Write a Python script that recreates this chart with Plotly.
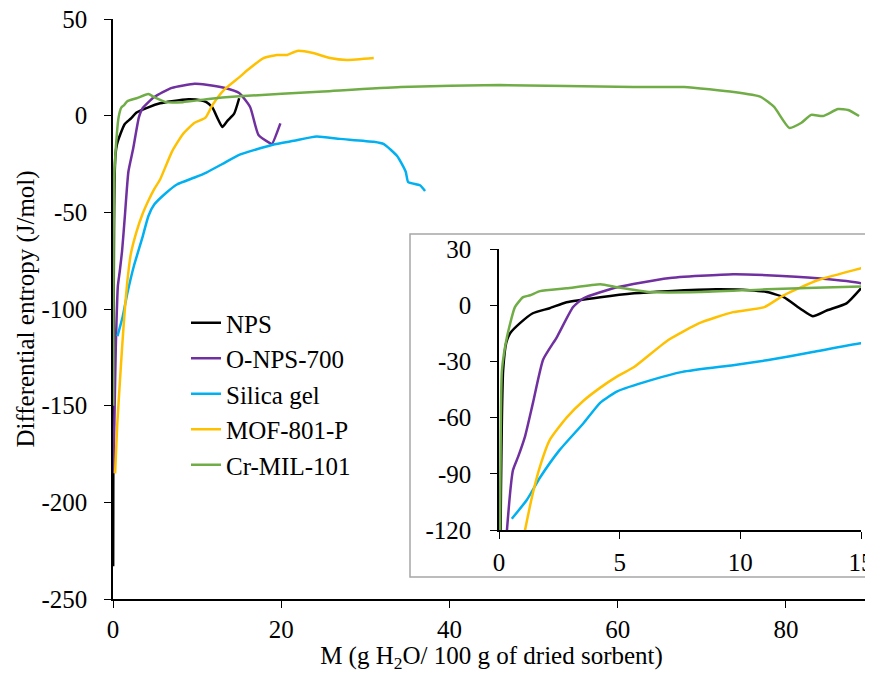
import plotly.graph_objects as go

# ---------------- data ----------------
nps_x = [0.02, 0.05, 0.08, 0.12, 0.17, 0.3, 0.46, 0.87, 1.4, 2.1, 2.8, 4.2, 5.6, 7.0, 9.0, 10.4, 11.1, 11.8, 12.5, 13.0, 13.6, 14.4, 15.0]
nps_y = [-233, -150, -100, -60, -35, -20, -15, -9.6, -4.3, -1.6, 1.6, 4.3, 6.4, 7.5, 8.5, 8.0, 7.0, 4.3, -2, -5.9, -2.7, 1.0, 9.0]

onps_x = [0.05, 0.2, 0.33, 0.58, 0.79, 1.08, 1.41, 1.83, 2.4, 3.07, 3.5, 4.9, 7.0, 9.7, 11.1, 13.2, 15.0, 16.3, 17.3, 18.7, 18.9, 19.9]
onps_y = [-185, -150, -120, -88, -81, -70, -52, -29, -17, -1, 3.7, 9.6, 14.4, 16.5, 16, 14.4, 11.7, 4.5, -10, -14.3, -14.7, -4]

sg_x = [0.53, 1.15, 1.7, 2.5, 3.5, 4.2, 4.9, 6.3, 7.6, 9.7, 11.1, 13.0, 15.0, 17.0, 19.0, 21.5, 24.2, 27.0, 31.0, 32.2, 33.8, 34.8, 35.1, 36.5, 37.1]
sg_y = [-114, -104, -92, -77.5, -63, -52, -46, -40, -35.6, -32, -29.4, -25, -20.3, -17.5, -15, -13, -10.8, -12, -13.5, -14.7, -21, -29, -34.4, -36, -39]

mof_x = [0.25, 0.5, 0.83, 1.08, 1.41, 1.7, 2.1, 2.8, 3.5, 4.2, 4.9, 5.6, 7.0, 8.3, 9.7, 11.0, 11.8, 13.2, 15.0, 16.0, 17.9, 19.5, 20.7, 21.9, 23.8, 25.8, 27.8, 31.0]
mof_y = [-185, -160, -137, -120, -100, -86, -72, -60, -51, -44, -38, -33, -18.7, -9.6, -3.7, -1, 5.3, 13.3, 19.8, 23.6, 29.8, 31.4, 31.4, 33.5, 32.4, 29.8, 28.8, 29.8]

cr_x = [0.03, 0.06, 0.12, 0.33, 0.66, 1.0, 1.29, 1.7, 2.8, 4.2, 4.9, 6.3, 8.3, 11.1, 15.0, 25, 34.2, 46, 61.9, 67.9, 73.8, 77.0, 78.6, 80.4, 81.8, 83.0, 84.4, 86.2, 87.4, 88.7]
cr_y = [-150, -90, -35, -17, -1, 4.3, 5.3, 7.5, 9, 11.2, 9.6, 7, 7, 8.5, 10, 12.5, 14.8, 15.8, 14.8, 14.8, 12.2, 9.7, 4.5, -6.3, -3.8, 0.4, -0.2, 3.4, 2.9, -0.2]

series = [
    ("NPS", nps_x, nps_y, "#000000"),
    ("O-NPS-700", onps_x, onps_y, "#7030A0"),
    ("Silica gel", sg_x, sg_y, "#00B0F0"),
    ("MOF-801-P", mof_x, mof_y, "#FFC000"),
    ("Cr-MIL-101", cr_x, cr_y, "#70AD47"),
]

main_xticks = [0, 20, 40, 60, 80]
main_yticks = [50, 0, -50, -100, -150, -200, -250]
main_ytext = ["50", "0", "-50", "-100", "-150", "-200", "-250"]
inset_xticks = [0, 5, 10, 15]
inset_yticks = [30, 0, -30, -60, -90, -120]
inset_ytext = ["30", "0", "-30", "-60", "-90", "-120"]

FONT = "Liberation Serif"

fig = go.Figure()
for name, xs, ys, col in series:
    fig.add_trace(go.Scatter(x=xs, y=ys, mode="lines", name=name, legendgroup=name,
                             line=dict(color=col, width=2.5, shape="spline", smoothing=0.5),
                             xaxis="x", yaxis="y"))
for name, xs, ys, col in series:
    fig.add_trace(go.Scatter(x=xs, y=ys, mode="lines", name=name, showlegend=False,
                             line=dict(color=col, width=2.5, shape="spline", smoothing=0.5),
                             xaxis="x2", yaxis="y2"))

OFF = 8  # page body margin
W, H = 873 - OFF, 673 - OFF
L = 113 - OFF
T = 19 - OFF
R = W - (870 - OFF)
B = H - (599 - OFF)
pw, ph = W - L - R, H - T - B

def px(xp):
    return (xp - OFF - L) / pw

def py(yp):
    return (H - B - (yp - OFF)) / ph

axis_common = dict(ticks="outside", ticklen=7, tickcolor="#000", showline=True,
                   linecolor="#000", linewidth=1.5, showgrid=False, zeroline=False,
                   tickfont=dict(family=FONT, size=25), ticklabeloverflow="allow")

fig.update_layout(
    width=W, height=H,
    margin=dict(l=L, r=R, t=T, b=B, autoexpand=False),
    paper_bgcolor="white", plot_bgcolor="white",
    font=dict(family=FONT, size=25, color="#000000"),
    showlegend=True,
    legend=dict(x=px(186), y=py(300), xanchor="left", yanchor="top",
                bgcolor="rgba(0,0,0,0)", font=dict(size=25, family=FONT),
                tracegroupgap=0, itemwidth=30),
    xaxis=dict(domain=[0, 1], range=[0, 90], tickvals=main_xticks,
               ticklabelstandoff=0,
               title=dict(text="M (g H<sub>2</sub>O/ 100 g of dried sorbent)",
                          font=dict(size=25, family=FONT), standoff=10),
               anchor="y", **axis_common),
    yaxis=dict(domain=[0, 1], range=[-250, 50], tickvals=main_yticks, ticktext=main_ytext,
               ticklabelstandoff=12,
               title=dict(text="Differential entropy (J/mol)",
                          font=dict(size=25, family=FONT), standoff=0),
               anchor="x", **axis_common),
    xaxis2=dict(domain=[px(499), px(861)], range=[0, 15], tickvals=inset_xticks,
                ticklabelstandoff=2, anchor="y2", **axis_common),
    yaxis2=dict(domain=[py(530), py(249)], range=[-120, 30], tickvals=inset_yticks,
                ticktext=inset_ytext, ticklabelstandoff=14, anchor="x2", **axis_common),
    shapes=[dict(type="rect", xref="paper", yref="paper",
                 x0=px(410), x1=px(872), y0=py(577), y1=py(234),
                 line=dict(color="#A6A6A6", width=1.5), fillcolor="rgba(0,0,0,0)",
                 layer="below")],
)

fig.write_html("out.html")
